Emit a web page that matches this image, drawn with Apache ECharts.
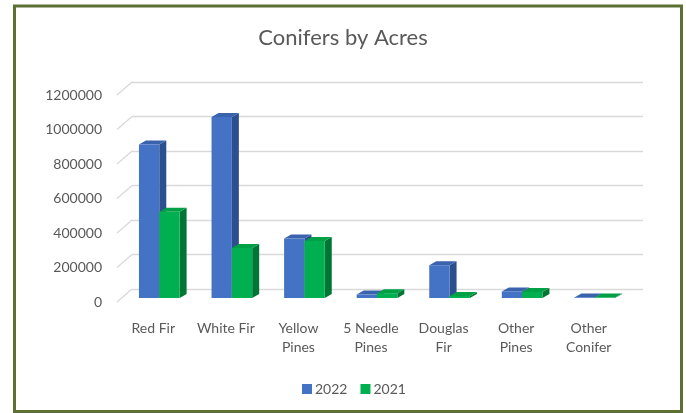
<!DOCTYPE html>
<html>
<head>
<meta charset="utf-8">
<script src="https://cdn.jsdelivr.net/npm/echarts@6/dist/echarts.min.js"></script>
<style>html,body{margin:0;padding:0;background:#fff;}#c{width:686px;height:413px;}</style>
</head>
<body>
<div id="c"></div>
<script>
const categories = ['Red Fir', 'White Fir', 'Yellow\nPines', '5 Needle\nPines', 'Douglas\nFir', 'Other\nPines', 'Other\nConifer'];
const seriesNames = ['2022', '2021'];
const values2022 = [890000, 1050000, 345000, 20000, 190000, 38000, 3000];
const values2021 = [500000, 290000, 330000, 28000, 12000, 35000, 2000];
const yTicks = [0, 200000, 400000, 600000, 800000, 1000000, 1200000];

const FONT = 'Lato, "Open Sans", sans-serif';
const TXT = '#595959';
const palettes = [
  { front: '#4472C4', top: '#3a63ae', side: '#2c4f8e' },
  { front: '#00B050', top: '#00a046', side: '#007634' }
];

function barRender(sIdx) {
  return function (params, api) {
    const idx = api.value(0);
    const v = api.value(1);
    const base = api.coord([idx, 0]);
    const topP = api.coord([idx, v]);
    const band = api.size([1, 0])[0];
    const w = band * 0.28;
    const shiftX = 6, shiftY = -4, dx = 7, dy = -4;
    const cx = base[0] + shiftX;
    const x0 = sIdx === 0 ? cx - w : cx;
    const x1 = x0 + w;
    const yb = base[1] + shiftY;
    const yt = Math.min(topP[1] + shiftY, yb - 0.5);
    const pal = palettes[sIdx];
    return {
      type: 'group',
      children: [
        { type: 'polygon', shape: { points: [[x1, yt], [x1 + dx, yt + dy], [x1 + dx, yb + dy], [x1, yb]] }, style: { fill: pal.side } },
        { type: 'polygon', shape: { points: [[x0, yt], [x0 + dx, yt + dy], [x1 + dx, yt + dy], [x1, yt]] }, style: { fill: pal.top } },
        { type: 'rect', shape: { x: x0, y: yt, width: w, height: yb - yt }, style: { fill: pal.front } }
      ]
    };
  };
}

const chart = echarts.init(document.getElementById('c'), null, { renderer: 'canvas' });
chart.setOption({
  backgroundColor: '#ffffff',
  animation: false,
  title: {
    text: 'Conifers by Acres',
    left: 'center',
    top: 22,
    textStyle: { fontFamily: FONT, fontSize: 22, fontWeight: 'normal', color: TXT }
  },
  legend: {
    data: seriesNames,
    left: 297,
    top: 377,
    icon: 'rect',
    itemWidth: 10,
    itemHeight: 10,
    itemGap: 13,
    textStyle: { fontFamily: FONT, fontSize: 14, color: TXT, padding: [0, 0, 0, -2] }
  },
  graphic: [{
    type: 'rect',
    shape: { x: 14.5, y: 6, width: 667, height: 405.5 },
    style: { fill: 'none', stroke: '#5b7032', lineWidth: 3 },
    silent: true
  }],
  grid: [
    { left: 117, right: 61, top: 95, bottom: 111 },
    { left: 132, right: 43, top: 82, bottom: 124 }
  ],
  xAxis: [
    {
      type: 'category', gridIndex: 0, data: categories,
      axisLine: { show: false }, axisTick: { show: false },
      axisLabel: { fontFamily: FONT, fontSize: 14, color: TXT, margin: 17, lineHeight: 19, interval: 0 }
    },
    {
      type: 'category', gridIndex: 1, data: categories, show: false
    }
  ],
  yAxis: [
    {
      type: 'value', gridIndex: 0, min: 0, max: 1200000, interval: 200000,
      axisLine: { show: false }, axisTick: { show: false }, splitLine: { show: false },
      axisLabel: { fontFamily: FONT, fontSize: 14, color: TXT, margin: 15, formatter: v => String(v) }
    },
    {
      type: 'value', gridIndex: 1, min: 0, max: 1200000, interval: 200000,
      axisLine: { show: false }, axisTick: { show: false },
      axisLabel: { show: false },
      splitLine: { show: true, lineStyle: { color: '#d9d9d9', width: 1.3 } }
    }
  ],
  series: [
    {
      name: 'wall',
      type: 'custom',
      xAxisIndex: 0, yAxisIndex: 0,
      silent: true,
      data: yTicks.map(v => [0, v]),
      renderItem: function (params, api) {
        const p = api.coord([0, api.value(1)]);
        const x = params.coordSys.x;
        return {
          type: 'line',
          shape: { x1: x, y1: p[1], x2: x + 15, y2: p[1] - 13 },
          style: { stroke: '#d9d9d9', lineWidth: 1.3 }
        };
      }
    },
    {
      name: seriesNames[0],
      type: 'custom',
      xAxisIndex: 0, yAxisIndex: 0,
      itemStyle: { color: palettes[0].front },
      data: values2022.map((v, i) => [i, v]),
      encode: { x: 0, y: 1 },
      renderItem: barRender(0)
    },
    {
      name: seriesNames[1],
      type: 'custom',
      xAxisIndex: 0, yAxisIndex: 0,
      itemStyle: { color: palettes[1].front },
      data: values2021.map((v, i) => [i, v]),
      encode: { x: 0, y: 1 },
      renderItem: barRender(1)
    }
  ]
});
</script>
</body>
</html>
